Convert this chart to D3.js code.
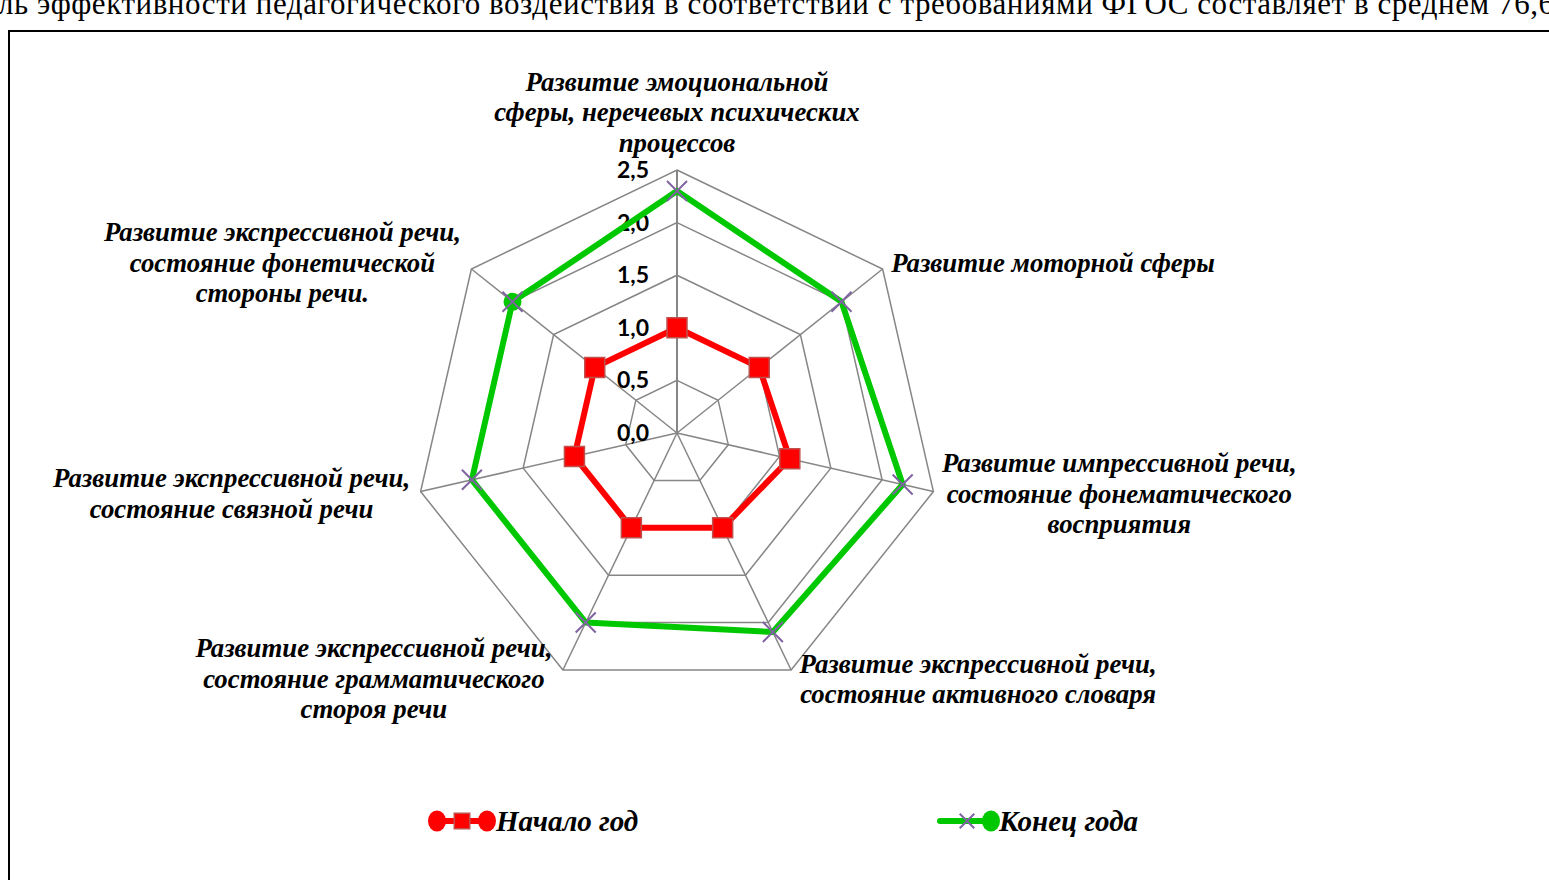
<!DOCTYPE html>
<html>
<head>
<meta charset="utf-8">
<script src="https://cdn.jsdelivr.net/npm/d3@7"></script>
<style>
  body { margin: 0; background: #fff; }
  svg { display: block; }
</style>
</head>
<body>
<div id="chart-radar"></div>
<script>
// chart data
const categories = [
    ["Развитие эмоциональной", "сферы, неречевых психических", "процессов"],
    ["Развитие моторной сферы"],
    ["Развитие импрессивной речи,", "состояние фонематического", "восприятия"],
    ["Развитие экспрессивной речи,", "состояние активного словаря"],
    ["Развитие экспрессивной речи,", "состояние грамматического", "стороя речи"],
    ["Развитие экспрессивной речи,", "состояние связной речи"],
    ["Развитие экспрессивной речи,", "состояние фонетической", "стороны речи."]
];
const startValues = [1.0, 1.0, 1.1, 1.0, 1.0, 1.0, 1.0];
const endValues = [2.3, 2.0, 2.2, 2.1, 2.0, 2.0, 2.0];
const endCircleIndex = 6;   // the one point of "Конец года" with a round marker
const tickValues = [0, 0.5, 1.0, 1.5, 2.0, 2.5];
const tickLabels = ["0,0", "0,5", "1,0", "1,5", "2,0", "2,5"];
const seriesNames = ["Начало год", "Конец года"];
const topText = "ль эффективности педагогического воздействия в соответствии с требованиями ФГОС составляет в среднем 76,6";

function drawRadarChart() {

    const width = 1549,
        height = 880;
    const center = {x: 677, y: 433};
    const radius = 263;
    const serif = "'Liberation Serif', 'Times New Roman', serif";

    const svg = d3.select("#chart-radar")
        .append("svg")
            .attr("width", width)
            .attr("height", height);

    // cut-off line of the document text above the chart
    svg.append("text")
        .attr("x", -2)
        .attr("y", 14)
        .attr("textLength", 1556)
        .attr("lengthAdjust", "spacing")
        .style("font-family", serif)
        .style("font-size", "31px")
        .text(topText);

    // chart frame
    svg.append("rect")
        .attr("x", 9)
        .attr("y", 31)
        .attr("width", 1700)
        .attr("height", 1000)
        .attr("fill", "none")
        .attr("stroke", "#000")
        .attr("stroke-width", 2);

    const r = d3.scaleLinear()
        .domain([0, 2.5])
        .range([0, radius]);

    const step = 2 * Math.PI / categories.length;
    const angles = categories.map((c, i) => i * step);

    const g = svg.append("g")
        .attr("transform", `translate(${center.x}, ${center.y})`);

    const ring = d3.lineRadial()
        .angle((d, i) => angles[i])
        .radius(d => r(d))
        .curve(d3.curveLinearClosed);

    // grid rings
    g.append("g")
        .selectAll("path")
        .data(tickValues.filter(v => v > 0))
        .enter()
        .append("path")
        .attr("d", v => ring(angles.map(() => v)))
        .attr("fill", "none")
        .attr("stroke", "#868686")
        .attr("stroke-width", 1.5);

    // spokes
    g.append("g")
        .selectAll("line")
        .data(angles)
        .enter()
        .append("line")
        .attr("x1", 0)
        .attr("y1", 0)
        .attr("x2", a => r(2.5) * Math.sin(a))
        .attr("y2", a => -r(2.5) * Math.cos(a))
        .attr("stroke", "#868686")
        .attr("stroke-width", a => a === 0 ? 2 : 1.5);

    // tick labels on the vertical axis
    g.append("g")
        .selectAll("text")
        .data(tickValues)
        .enter()
        .append("text")
        .attr("x", -28)
        .attr("y", v => -r(v) + 8)
        .style("text-anchor", "end")
        .style("font-family", "Lato, 'Liberation Sans', sans-serif")
        .style("font-weight", "bold")
        .style("font-size", "23px")
        .text((v, i) => tickLabels[i]);

    const pointOf = (v, i) => [r(v) * Math.sin(angles[i]), -r(v) * Math.cos(angles[i])];

    // series lines
    g.append("path")
        .attr("d", ring(startValues))
        .attr("fill", "none")
        .attr("stroke", "#ff0000")
        .attr("stroke-width", 6)
        .attr("stroke-linejoin", "round");

    g.append("path")
        .attr("d", ring(endValues))
        .attr("fill", "none")
        .attr("stroke", "#00c800")
        .attr("stroke-width", 6)
        .attr("stroke-linejoin", "round");

    // red square markers
    g.append("g")
        .selectAll("path")
        .data(startValues)
        .enter()
        .append("path")
        .attr("d", d3.symbol(d3.symbolSquare, 400))
        .attr("transform", (v, i) => `translate(${pointOf(v, i)})`)
        .attr("fill", "#ff0000")
        .attr("stroke", "#c0504d")
        .attr("stroke-width", 1.5);

    // the single round marker on the green line
    g.append("circle")
        .attr("cx", pointOf(endValues[endCircleIndex], endCircleIndex)[0])
        .attr("cy", pointOf(endValues[endCircleIndex], endCircleIndex)[1])
        .attr("r", 9)
        .attr("fill", "#00c800");

    // purple x markers
    g.append("g")
        .selectAll("path")
        .data(endValues)
        .enter()
        .append("path")
        .attr("d", d3.symbol(d3.symbolX, 263))
        .attr("transform", (v, i) => `translate(${pointOf(v, i)})`)
        .attr("fill", "none")
        .attr("stroke", "#8064a2")
        .attr("stroke-width", 2);

    // category labels
    const fs = 26.8, lh = 30.5;
    categories.forEach((lines, i) => {
        const a = angles[i];
        const s = Math.sin(a), c = Math.cos(a);
        const [vx, vy] = pointOf(2.5, i);

        const label = g.append("text")
            .style("text-anchor", "middle")
            .style("font-family", serif)
            .style("font-weight", "bold")
            .style("font-style", "italic")
            .style("font-size", fs + "px");

        lines.forEach((t, k) => {
            label.append("tspan")
                .attr("x", 0)
                .attr("y", k * lh)
                .text(t);
        });

        const w = label.node().getBBox().width;
        let lx, ly;
        if (Math.abs(s) < 0.1) {
            lx = vx;
            ly = vy - 12 - lines.length * lh / 2;
        } else {
            ly = vy - 10 * c;
            lx = s > 0 ? vx + 8 + w / 2 : vx - 10 - w / 2;
        }
        const firstBaseline = ly - (lines.length - 1) / 2 * lh + 0.33 * fs;
        label.attr("transform", `translate(${lx}, ${firstBaseline})`);
    });

    // legend
    const legendY = 821;
    const legend = svg.append("g");

    const red = legend.append("g").attr("transform", `translate(462, ${legendY})`);
    red.append("line")
        .attr("x1", -25).attr("x2", 25)
        .attr("stroke", "#ff0000").attr("stroke-width", 6);
    red.selectAll("ellipse")
        .data([-25, 25])
        .enter()
        .append("ellipse")
        .attr("cx", d => d)
        .attr("rx", 9)
        .attr("ry", 10.5)
        .attr("fill", "#ff0000");
    red.append("path")
        .attr("d", d3.symbol(d3.symbolSquare, 240))
        .attr("fill", "#ff0000")
        .attr("stroke", "#c0504d")
        .attr("stroke-width", 1.5);
    legend.append("text")
        .attr("x", 496)
        .attr("y", legendY + 10)
        .style("font-family", serif)
        .style("font-weight", "bold")
        .style("font-style", "italic")
        .style("font-size", "29px")
        .text(seriesNames[0]);

    const green = legend.append("g").attr("transform", `translate(967, ${legendY})`);
    green.append("line")
        .attr("x1", -27).attr("x2", 24)
        .attr("stroke", "#00c800").attr("stroke-width", 6)
        .attr("stroke-linecap", "round");
    green.append("ellipse")
        .attr("cx", 24)
        .attr("rx", 9)
        .attr("ry", 10.5)
        .attr("fill", "#00c800");
    green.append("path")
        .attr("d", d3.symbol(d3.symbolX, 140))
        .attr("fill", "none")
        .attr("stroke", "#8064a2")
        .attr("stroke-width", 2);
    legend.append("text")
        .attr("x", 999)
        .attr("y", legendY + 10)
        .style("font-family", serif)
        .style("font-weight", "bold")
        .style("font-style", "italic")
        .style("font-size", "29px")
        .text(seriesNames[1]);
}

drawRadarChart();
</script>
</body>
</html>
